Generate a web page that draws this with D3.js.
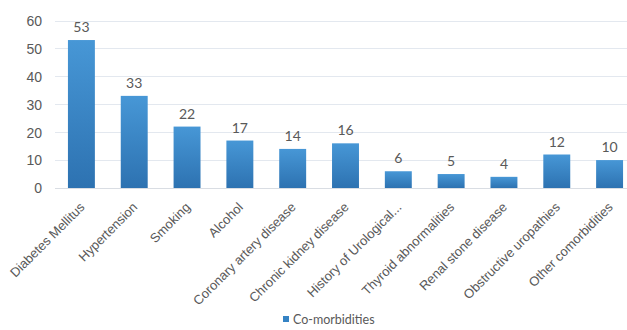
<!DOCTYPE html>
<html>
<head>
<meta charset="utf-8">
<script src="https://cdn.jsdelivr.net/npm/d3@7/dist/d3.min.js"></script>
<style>
  body { margin: 0; background: #fff; }
  svg { display: block; font-family: Lato, "Open Sans", sans-serif; }
</style>
</head>
<body>
<svg id="chart" width="627" height="330"></svg>
<script>
// data
var categories = ["Diabetes Mellitus", "Hypertension", "Smoking", "Alcohol",
  "Coronary artery disease", "Chronic kidney disease", "History of Urological...",
  "Thyroid abnormalities", "Renal stone disease", "Obstructive uropathies",
  "Other comorbidities"];
var values = [53, 33, 22, 17, 14, 16, 6, 5, 4, 12, 10];
var yTicks = [0, 10, 20, 30, 40, 50, 60];
var seriesName = "Co-morbidities";

var svg = d3.select("#chart");
var textColor = "#595959";

var x = d3.scaleBand()
  .domain(categories)
  .range([55, 636])
  .paddingInner(0.49)
  .paddingOuter(0.245);

var y = d3.scaleLinear()
  .domain([0, 60])
  .range([188, 20.5]);

// gradient for bars
var defs = svg.append("defs");
var grad = defs.append("linearGradient")
  .attr("id", "barGrad")
  .attr("x1", 0).attr("y1", 0).attr("x2", 0).attr("y2", 1);
grad.append("stop").attr("offset", "0%").attr("stop-color", "#4797d6");
grad.append("stop").attr("offset", "100%").attr("stop-color", "#2d72b1");

// grid lines
svg.append("g")
  .selectAll("line")
  .data(yTicks)
  .enter().append("line")
  .attr("x1", 55)
  .attr("x2", 627)
  .attr("y1", function(d) { return Math.round(y(d)) + 0.5; })
  .attr("y2", function(d) { return Math.round(y(d)) + 0.5; })
  .attr("stroke", function(d) { return d == 0 ? "#d9dde3" : "#e3e8ef"; })
  .attr("stroke-width", 1);

// y axis labels
var yAxis = d3.axisLeft(y).tickValues(yTicks).tickSize(0).tickPadding(0);
var gy = svg.append("g").attr("transform", "translate(42,0)").call(yAxis);
gy.select(".domain").remove();
gy.selectAll("text")
  .attr("fill", textColor)
  .style("font-size", "14px")
  .attr("dy", "0.35em");

// bars
svg.append("g")
  .selectAll("rect")
  .data(values)
  .enter().append("rect")
  .attr("x", function(d, i) { return x(categories[i]); })
  .attr("width", x.bandwidth())
  .attr("y", function(d) { return y(d); })
  .attr("height", function(d) { return y(0) - y(d); })
  .attr("fill", "url(#barGrad)");

// value labels
svg.append("g")
  .selectAll("text")
  .data(values)
  .enter().append("text")
  .attr("x", function(d, i) { return x(categories[i]) + x.bandwidth() / 2; })
  .attr("y", function(d) { return y(d) - 8; })
  .attr("text-anchor", "middle")
  .attr("fill", textColor)
  .style("font-size", "14px")
  .text(function(d) { return d; });

// category labels, rotated
var xAxis = d3.axisBottom(x).tickSize(0).tickPadding(0);
var gx = svg.append("g").attr("transform", "translate(0,188)").call(xAxis);
gx.select(".domain").remove();
gx.selectAll("text")
  .attr("fill", textColor)
  .style("font-size", "13px")
  .attr("text-anchor", "end")
  .attr("dy", 0)
  .attr("transform", "translate(4,20) rotate(-45)");

// legend
var legend = svg.append("g").attr("transform", "translate(283,316)");
legend.append("rect")
  .attr("width", 6).attr("height", 6)
  .attr("fill", "#3583c4");
legend.append("text")
  .attr("x", 10).attr("y", 7.5)
  .attr("fill", textColor)
  .style("font-size", "12.5px")
  .text(seriesName);
</script>
</body>
</html>
